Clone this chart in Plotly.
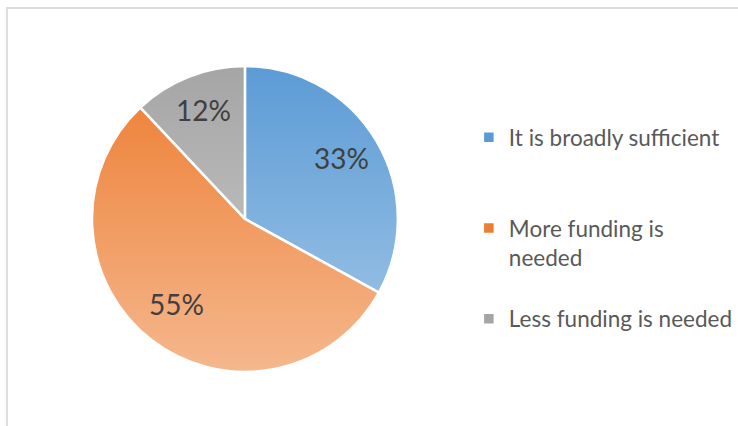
import base64
import math
import plotly.graph_objects as go

# Survey answers and their shares (%)
categories = ["It is broadly sufficient", "More funding is needed", "Less funding is needed"]
legend_text = ["It is broadly sufficient<br> <br> ", "More funding is<br>needed<br> ", "Less funding is needed"]
shares = [33, 55, 12]
colors = ["#5b9bd5", "#ed7d31", "#a5a5a5"]

W, H = 738, 426
# pie placement (paper fractions)
dom_x = [0.1260, 0.5450]
dom_y = [0.1230, 0.8490]

fig = go.Figure(
    go.Pie(
        labels=legend_text,
        values=shares,
        customdata=categories,
        sort=False,
        direction="clockwise",
        rotation=0,
        textinfo="none",
        hoverinfo="skip",
        marker=dict(colors=colors, line=dict(color="#ffffff", width=2.5)),
        domain=dict(x=dom_x, y=dom_y),
    )
)

# vertical wash over the pie (lighter towards the bottom)
svg = (
    '<svg xmlns="http://www.w3.org/2000/svg" viewBox="0 0 100 100" '
    'preserveAspectRatio="none" width="100" height="100">'
    '<defs><linearGradient id="g" x1="0" y1="0" x2="0" y2="1">'
    '<stop offset="0" stop-color="#ffffff" stop-opacity="0"/>'
    '<stop offset="1" stop-color="#ffffff" stop-opacity="0.45"/>'
    '</linearGradient></defs>'
    '<rect x="0" y="0" width="100" height="100" fill="url(#g)"/></svg>'
)
src = "data:image/svg+xml;base64," + base64.b64encode(svg.encode()).decode()
fig.add_layout_image(
    source=src, xref="paper", yref="paper",
    x=dom_x[0], y=dom_y[1],
    sizex=dom_x[1] - dom_x[0], sizey=dom_y[1] - dom_y[0],
    xanchor="left", yanchor="top", sizing="stretch", layer="above",
)

# percentage labels at each slice's mid-angle
cx = (dom_x[0] + dom_x[1]) / 2 * W
cy = (dom_y[0] + dom_y[1]) / 2 * H
radius = min((dom_x[1] - dom_x[0]) * W, (dom_y[1] - dom_y[0]) * H) / 2
total = sum(shares)
cum = 0
for v in shares:
    theta = 2 * math.pi * (cum + v / 2) / total
    cum += v
    px = cx + 0.73 * radius * math.sin(theta)
    py = cy + 0.73 * radius * math.cos(theta)
    fig.add_annotation(
        x=px / W, y=py / H, xref="paper", yref="paper",
        xanchor="center", yanchor="middle", yshift=4,
        text=f"{v}%", showarrow=False,
        font=dict(family="Lato", size=28, color="#404040"),
    )

# light frame around the chart area
fig.add_shape(
    type="rect", xref="paper", yref="paper",
    x0=7 / W, x1=1.05, y0=-0.05, y1=(H - 8) / H,
    line=dict(color="#dcdcdc", width=2), fillcolor="rgba(0,0,0,0)", layer="below",
)

fig.update_layout(
    width=W, height=H,
    margin=dict(l=0, r=0, t=0, b=0),
    paper_bgcolor="#ffffff",
    plot_bgcolor="#ffffff",
    showlegend=True,
    legend=dict(
        x=474 / W, y=(H - 116) / H, xanchor="left", yanchor="top",
        valign="top",
        font=dict(family="Lato", size=22.5, color="#595959"),
        bgcolor="rgba(0,0,0,0)",
        traceorder="normal",
    ),
)

fig.write_html("out.html")
